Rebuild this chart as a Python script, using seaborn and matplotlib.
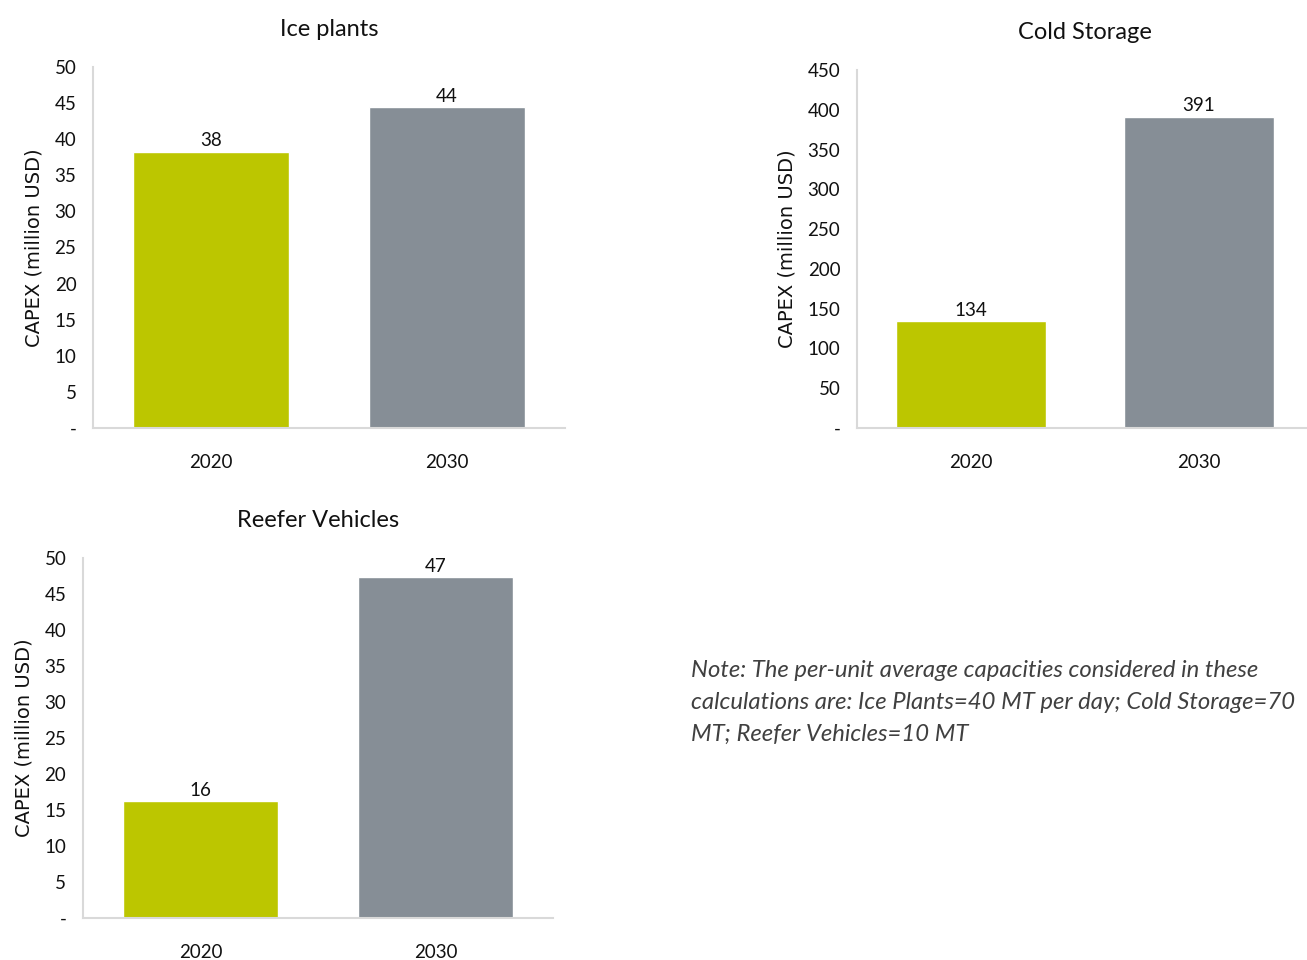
import matplotlib
matplotlib.use('Agg')
import matplotlib.pyplot as plt
import matplotlib.ticker as mticker
import seaborn as sns
import pandas as pd

years = ['2020', '2030']
ice_plants = [38.2, 44.4]
cold_storage = [134, 391]
reefer_vehicles = [16.2, 47.3]
note = ('Note: The per-unit average capacities considered in these\n'
        'calculations are: Ice Plants=40 MT per day; Cold Storage=70\n'
        'MT; Reefer Vehicles=10 MT')

GREEN = '#bcc600'
GREY = '#868e96'
NARROW = ['Lato', 'DejaVu Sans']

sns.set_style('white')
plt.rcParams['font.family'] = ['DejaVu Sans']

fig = plt.figure(figsize=(13.07, 9.6), dpi=100)


def capex_bar(rect, title, values, ymax, step):
    ax = fig.add_axes(rect)
    df = pd.DataFrame({'Year': years, 'CAPEX': values})
    sns.barplot(data=df, x='Year', y='CAPEX', hue='Year',
                palette={years[0]: GREEN, years[1]: GREY},
                width=0.66, legend=False, ax=ax, saturation=1)
    ax.set_xlim(-0.5, 1.5)
    ax.set_ylim(0, ymax)
    ax.yaxis.set_major_locator(mticker.MultipleLocator(step))
    ax.yaxis.set_major_formatter(
        mticker.FuncFormatter(lambda v, p: '-' if v == 0 else f'{v:.0f}'))
    for c in ax.containers:
        ax.bar_label(c, fmt='{:.0f}', padding=2, fontsize=13.5, family=NARROW, color='#111111')
    ax.set_title(title, fontsize=17, family=NARROW, pad=22, color='#111111')
    ax.set_xlabel('')
    ax.set_ylabel('CAPEX (million USD)', fontsize=14, labelpad=8, color='#111111')
    for s in ['top', 'right']:
        ax.spines[s].set_visible(False)
    for s in ['left', 'bottom']:
        ax.spines[s].set_color('#d9d9d9')
        ax.spines[s].set_linewidth(1.5)
    ax.tick_params(axis='both', length=0, labelsize=13.5, labelcolor='#111111')
    ax.tick_params(axis='x', pad=19)
    ax.tick_params(axis='y', pad=12)
    for lab in ax.get_xticklabels() + ax.get_yticklabels():
        lab.set_family(NARROW)
    return ax


capex_bar([0.0712, 0.5542, 0.3611, 0.376], 'Ice plants', ice_plants, 50, 5)
capex_bar([0.6557, 0.5542, 0.3489, 0.3729], 'Cold Storage', cold_storage, 450, 50)
capex_bar([0.0635, 0.04375, 0.3596, 0.375], 'Reefer Vehicles', reefer_vehicles, 50, 5)

fig.text(0.5287, 0.313, note, fontsize=17.2, style='italic', family=['Lato', 'DejaVu Sans'],
         color='#404040', va='top', ha='left', linespacing=1.65)

plt.savefig('out.png', dpi=100)
plt.close()
